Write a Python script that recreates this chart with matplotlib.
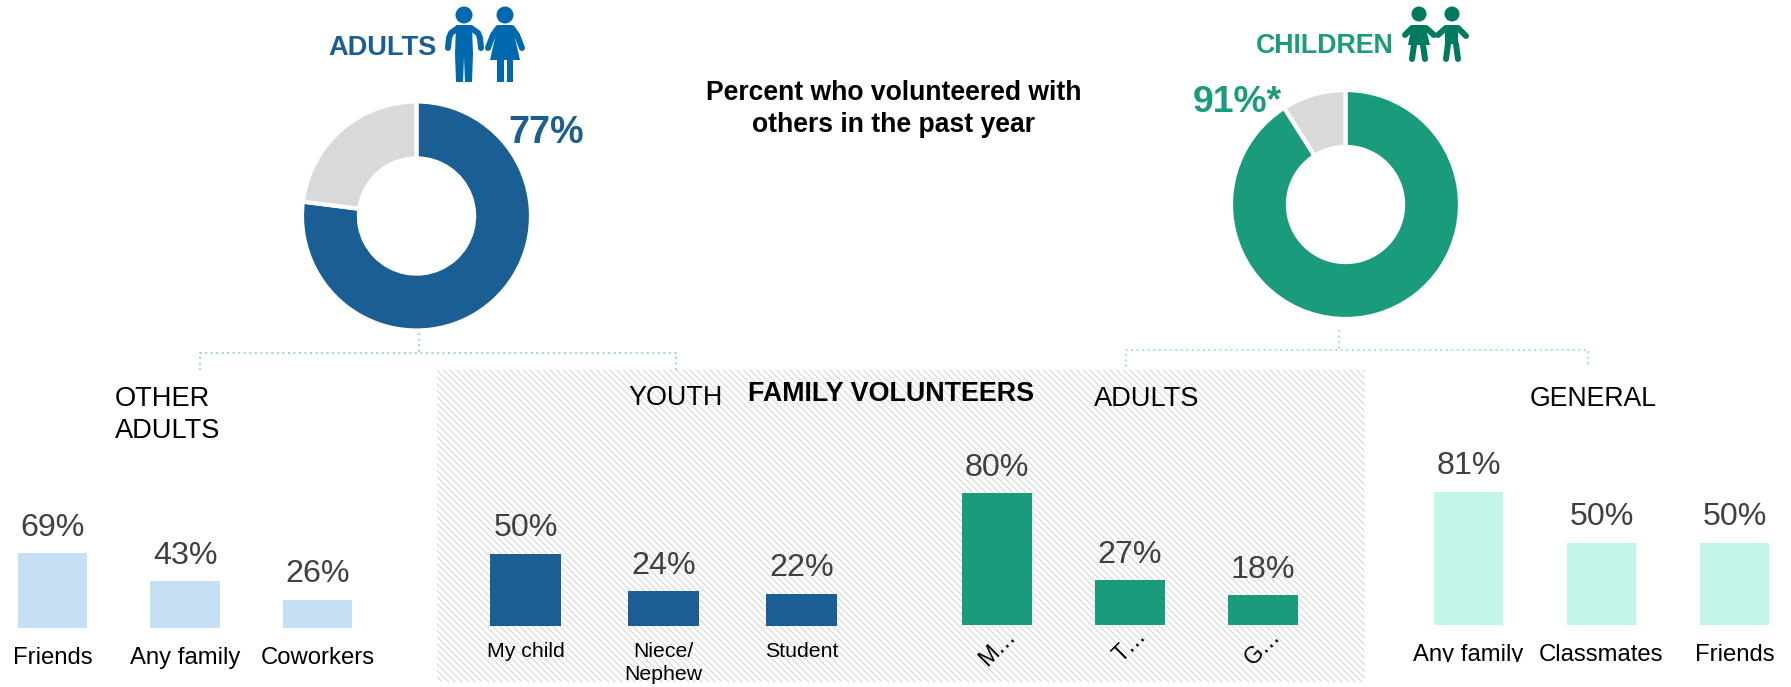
import matplotlib
matplotlib.use("Agg")
import matplotlib.pyplot as plt
from matplotlib.patches import Rectangle, Circle, Polygon

plt.rcParams['font.family'] = ['Liberation Sans', 'DejaVu Sans']
plt.rcParams['hatch.linewidth'] = 0.7

W, H = 1791, 687

BLUE = "#1b5e94"
GREEN = "#1a9b7c"
LIGHT_BLUE = "#c5e0f5"
LIGHT_TEAL = "#c4f5ea"
GREY = "#d9d9d9"
ICON_BLUE = "#0068ad"
ICON_GREEN = "#007a5e"

donut_adults = [77, 23]
donut_children = [91, 9]

other_labels = ["Friends", "Any family", "Coworkers"]
other_values = [69, 43, 26]
youth_labels = ["My child", "Niece/\nNephew", "Student"]
youth_values = [50, 24, 22]
family_adult_labels = ["M…", "T…", "G…"]
family_adult_values = [80, 27, 18]
general_labels = ["Any family", "Classmates", "Friends"]
general_values = [81, 50, 50]

fig = plt.figure(figsize=(W / 100, H / 100), dpi=100)

# overlay in pixel coordinates for the layout pieces
bg = fig.add_axes([0, 0, 1, 1])
bg.set_xlim(0, W)
bg.set_ylim(H, 0)
bg.axis("off")


def px_axes(left, top, right, bottom):
    ax = fig.add_axes([left / W, 1 - bottom / H, (right - left) / W, (bottom - top) / H])
    ax.patch.set_alpha(0)
    return ax


def donut(cx, cy, values, color):
    R = 114.5
    ax = px_axes(cx - R, cy - R, cx + R, cy + R)
    ax.pie(values, colors=[color, GREY], startangle=90, counterclock=False, radius=1,
           wedgeprops={"width": 0.497, "edgecolor": "white", "linewidth": 3})
    ax.set_xlim(-1, 1)
    ax.set_ylim(-1, 1)


def bars(first, step, bottom, px_per_pct, labels, values, color, size, pad, width=0.525, **tick_kw):
    top = 370
    ax = px_axes(first - step / 2, top, first + 2.5 * step, bottom)
    xs = range(len(values))
    ax.bar(xs, values, width=width, color=color)
    ax.set_xlim(-0.5, 2.5)
    ax.set_ylim(0, (bottom - top) / px_per_pct)
    for x, v in zip(xs, values):
        ax.annotate(f"{v}%", (x, v), xytext=(0, 12.5), textcoords="offset points",
                    ha="center", va="baseline", fontsize=23.2, color="#404040")
    ax.set_xticks(list(xs), labels, fontsize=size, color="black", linespacing=1.25, **tick_kw)
    ax.tick_params(axis="x", length=0, pad=pad)
    ax.set_yticks([])
    for s in ax.spines.values():
        s.set_visible(False)
    return ax


def limb(pts, color, lw):
    bg.plot([p[0] for p in pts], [p[1] for p in pts], color=color, lw=lw * 0.72,
            solid_capstyle="round", solid_joinstyle="round")


def adults_icon():
    c = ICON_BLUE
    bg.add_patch(Circle((464, 15), 8.5, color=c, lw=0))
    bg.add_patch(Polygon([(456, 25), (472, 25), (473, 54), (472, 82), (465, 82), (464, 57),
                          (463, 82), (456, 82), (455, 54)], color=c, lw=0))
    limb([(458, 28), (451, 33), (449, 38), (448, 48)], c, 6)
    limb([(471, 28), (478, 33), (480, 38), (481, 48)], c, 6)
    bg.add_patch(Circle((505, 15), 8.5, color=c, lw=0))
    bg.add_patch(Polygon([(498, 25), (512, 25), (520, 60), (490, 60)], color=c, lw=0))
    bg.add_patch(Rectangle((497, 58), 6.5, 24, color=c, lw=0))
    bg.add_patch(Rectangle((506.5, 58), 6.5, 24, color=c, lw=0))
    limb([(498, 28), (493, 35), (488, 48)], c, 6)
    limb([(512, 28), (517, 35), (522, 48)], c, 6)


def children_icon():
    c = ICON_GREEN
    bg.add_patch(Circle((1419, 14), 7.5, color=c, lw=0))
    bg.add_patch(Polygon([(1412, 25), (1425, 25), (1430, 45), (1408, 45)], color=c, lw=0))
    limb([(1412, 28), (1405, 35)], c, 6)
    limb([(1426, 28), (1434, 35)], c, 6)
    limb([(1414, 45), (1412, 59)], c, 6)
    limb([(1423, 45), (1425, 59)], c, 6)
    bg.add_patch(Circle((1452, 14), 7.5, color=c, lw=0))
    bg.add_patch(Polygon([(1445, 25), (1458, 25), (1458, 44), (1445, 44)], color=c, lw=0))
    limb([(1446, 28), (1438, 35)], c, 6)
    limb([(1458, 28), (1466, 36)], c, 6)
    limb([(1448, 44), (1446, 59)], c, 6)
    limb([(1456, 44), (1458, 59)], c, 6)


# hatched family panel
bg.add_patch(Rectangle((437, 370), 928, 312, facecolor="white", edgecolor="#d2d2d2",
                       hatch="\\\\\\\\\\", lw=0))

# dotted connectors
dot_blue = {"color": "#a3d2f0", "lw": 1.5, "ls": ":"}
dot_teal = {"color": "#a8e8dc", "lw": 1.5, "ls": ":"}
bg.plot([200, 200, 676, 676], [370, 353, 353, 370], **dot_blue)
bg.plot([419, 419], [333, 353], **dot_blue)
bg.plot([1126, 1126, 1588, 1588], [367, 350, 350, 367], **dot_teal)
bg.plot([1339, 1339], [330, 350], **dot_teal)

donut(416.5, 216, donut_adults, BLUE)
donut(1345.5, 204.5, donut_children, GREEN)

bars(52.5, 132.5, 628, 1.087, other_labels, other_values, LIGHT_BLUE, 17.2, 14)
bars(525.5, 138, 625.5, 1.44, youth_labels, youth_values, BLUE, 15.3, 12, width=0.514)
bars(997, 133, 624.5, 1.64, family_adult_labels, family_adult_values, GREEN, 16.5, 0, width=0.522,
     rotation=45)
ax_gen = bars(1468.5, 133, 624.5, 1.64, general_labels, general_values, LIGHT_TEAL, 17.2, 14, width=0.522)

# the first label of the last group is cut off at its foot in the source
clip = Rectangle((1400, 630), 300, 32, transform=bg.transData)
first_label = ax_gen.get_xticklabels()[0]
first_label.set_clip_path(clip)
first_label.set_clip_on(True)

adults_icon()
children_icon()

bg.text(328, 55, "ADULTS", fontsize=19.6, fontweight="bold", color=BLUE, va="baseline")
bg.text(1256, 53, "CHILDREN", fontsize=19.3, fontweight="bold", color=GREEN, va="baseline")
bg.text(508, 143, "77%", fontsize=27.2, fontweight="bold", color=BLUE, va="baseline")
bg.text(1193, 112, "91%*", fontsize=26.9, fontweight="bold", color=GREEN, va="baseline")
bg.text(894, 100, "Percent who volunteered with", fontsize=19.1, fontweight="bold",
        ha="center", va="baseline")
bg.text(894, 132, "others in the past year", fontsize=19.1, fontweight="bold",
        ha="center", va="baseline")
bg.text(115, 406, "OTHER", fontsize=19.6, va="baseline")
bg.text(115, 438, "ADULTS", fontsize=19.6, va="baseline")
bg.text(628, 405, "YOUTH", fontsize=19.4, va="baseline")
bg.text(748, 401, "FAMILY VOLUNTEERS", fontsize=19.4, fontweight="bold", va="baseline")
bg.text(1094, 406, "ADULTS", fontsize=19.6, va="baseline")
bg.text(1530, 406, "GENERAL", fontsize=19.2, va="baseline")

fig.savefig("out.png", dpi=100)
